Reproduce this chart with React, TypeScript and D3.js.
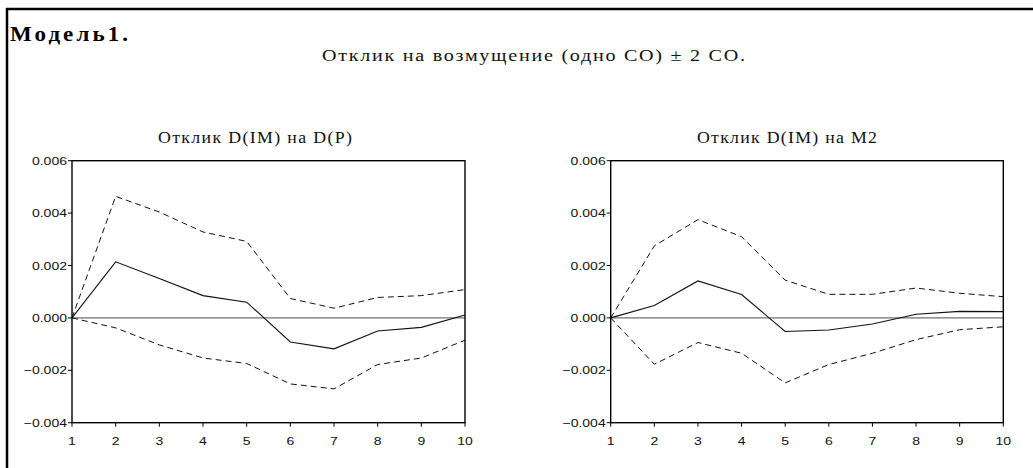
import React from "react";
import * as d3 from "d3";

// Impulse-response horizon (periods)
const periods = [1, 2, 3, 4, 5, 6, 7, 8, 9, 10];

// Response of D(IM) to D(P)
const respP = [0, 0.00214, 0.0015, 0.00085, 0.0006, -0.00092, -0.00118, -0.0005, -0.00036, 0.00011];
const upperP = [0, 0.00464, 0.00404, 0.00328, 0.00292, 0.00074, 0.00037, 0.00078, 0.00085, 0.00108];
const lowerP = [0, -0.00038, -0.00103, -0.00153, -0.00174, -0.00252, -0.00271, -0.00178, -0.00153, -0.00085];

// Response of D(IM) to M2
const respM2 = [0, 0.00047, 0.00141, 0.00089, -0.00052, -0.00046, -0.00023, 0.00014, 0.00025, 0.00024];
const upperM2 = [0, 0.00275, 0.00375, 0.0031, 0.00144, 0.0009, 0.0009, 0.00114, 0.00094, 0.00081];
const lowerM2 = [0, -0.00177, -0.00094, -0.00135, -0.00248, -0.00178, -0.00135, -0.00083, -0.00045, -0.00034];

const yTicks = [-0.004, -0.002, 0.0, 0.002, 0.004, 0.006];

const pageTitle = "Модель1.";
const mainTitle = "Отклик на возмущение (одно СО) ± 2 СО.";
const panelTitles = ["Отклик D(IM) на D(P)", "Отклик D(IM) на M2"];

const serif = "'Liberation Serif', 'Times New Roman', serif";
const sans = "'Liberation Sans', Arial, sans-serif";
const tickStretch = 1.22;

type WideTextProps = {
  x: number;
  y: number;
  width: number;
  size: number;
  stretch: number;
  bold?: boolean;
  children: string;
};

// Serif caption drawn slightly widened and spread to a given overall width
function WideText({ x, y, width, size, stretch, bold, children }: WideTextProps) {
  return (
    <text
      transform={`translate(${x},${y}) scale(${stretch},1)`}
      fontFamily={serif}
      fontSize={size}
      fontWeight={bold ? "bold" : "normal"}
      textLength={width / stretch}
      lengthAdjust="spacing"
      fill={bold ? "#000" : "#111"}
    >
      {children}
    </text>
  );
}

type PanelProps = {
  left: number;
  right: number;
  top: number;
  bottom: number;
  title: string;
  titleLeft: number;
  titleWidth: number;
  resp: number[];
  upper: number[];
  lower: number[];
};

function Panel({ left, right, top, bottom, title, titleLeft, titleWidth, resp, upper, lower }: PanelProps) {
  const x = d3.scaleLinear().domain([1, 10]).range([left, right]);
  const y = d3.scaleLinear().domain([-0.004, 0.006]).range([bottom, top]);
  const line = d3
    .line<number>()
    .x((_, i) => x(periods[i]))
    .y((d) => y(d));
  return (
    <g>
      <WideText x={titleLeft} y={143} width={titleWidth} size={16.5} stretch={1.08}>
        {title}
      </WideText>
      {/* zero reference line */}
      <line x1={left} x2={right} y1={y(0)} y2={y(0)} stroke="#707070" strokeWidth={1.2} />
      <path d={line(upper) ?? ""} fill="none" stroke="#111" strokeWidth={1} strokeDasharray="6,4" />
      <path d={line(lower) ?? ""} fill="none" stroke="#111" strokeWidth={1} strokeDasharray="6,4" />
      <path d={line(resp) ?? ""} fill="none" stroke="#111" strokeWidth={1.1} />
      <rect
        x={left}
        y={top}
        width={right - left}
        height={bottom - top}
        fill="none"
        stroke="#000"
        strokeWidth={1.4}
      />
      {yTicks.map((t) => (
        <g key={t}>
          <line x1={left - 4} x2={left} y1={y(t)} y2={y(t)} stroke="#000" strokeWidth={1} />
          <text
            transform={`translate(${left - 5},${y(t) + 4}) scale(${tickStretch},1)`}
            textAnchor="end"
            fontFamily={sans}
            fontSize={11.5}
            fill="#111"
          >
            {d3.format(".3f")(t)}
          </text>
        </g>
      ))}
      {periods.map((p) => (
        <g key={p}>
          <line x1={x(p)} x2={x(p)} y1={bottom} y2={bottom + 4} stroke="#000" strokeWidth={1} />
          <text
            transform={`translate(${x(p)},${bottom + 22}) scale(${tickStretch},1)`}
            textAnchor="middle"
            fontFamily={sans}
            fontSize={11.5}
            fill="#111"
          >
            {p}
          </text>
        </g>
      ))}
    </g>
  );
}

export default function App() {
  return (
    <svg
      width={1033}
      height={468}
      style={{ position: "absolute", left: 0, top: 0, background: "#fff" }}
    >
      <rect x={0} y={0} width={1033} height={468} fill="#fff" />
      {/* page frame: top and left edges */}
      <line x1={6} x2={1033} y1={9} y2={9} stroke="#000" strokeWidth={2.5} />
      <line x1={7} x2={7} y1={8} y2={468} stroke="#000" strokeWidth={2.5} />
      <WideText x={10} y={41} width={118} size={20} stretch={1.15} bold>
        {pageTitle}
      </WideText>
      <WideText x={322} y={61} width={423} size={17.5} stretch={1.15}>
        {mainTitle}
      </WideText>
      <Panel
        left={72}
        right={465}
        top={160.7}
        bottom={422.7}
        title={panelTitles[0]}
        titleLeft={158}
        titleWidth={194}
        resp={respP}
        upper={upperP}
        lower={lowerP}
      />
      <Panel
        left={610.7}
        right={1003.3}
        top={160.7}
        bottom={422.7}
        title={panelTitles[1]}
        titleLeft={697}
        titleWidth={180}
        resp={respM2}
        upper={upperM2}
        lower={lowerM2}
      />
    </svg>
  );
}
